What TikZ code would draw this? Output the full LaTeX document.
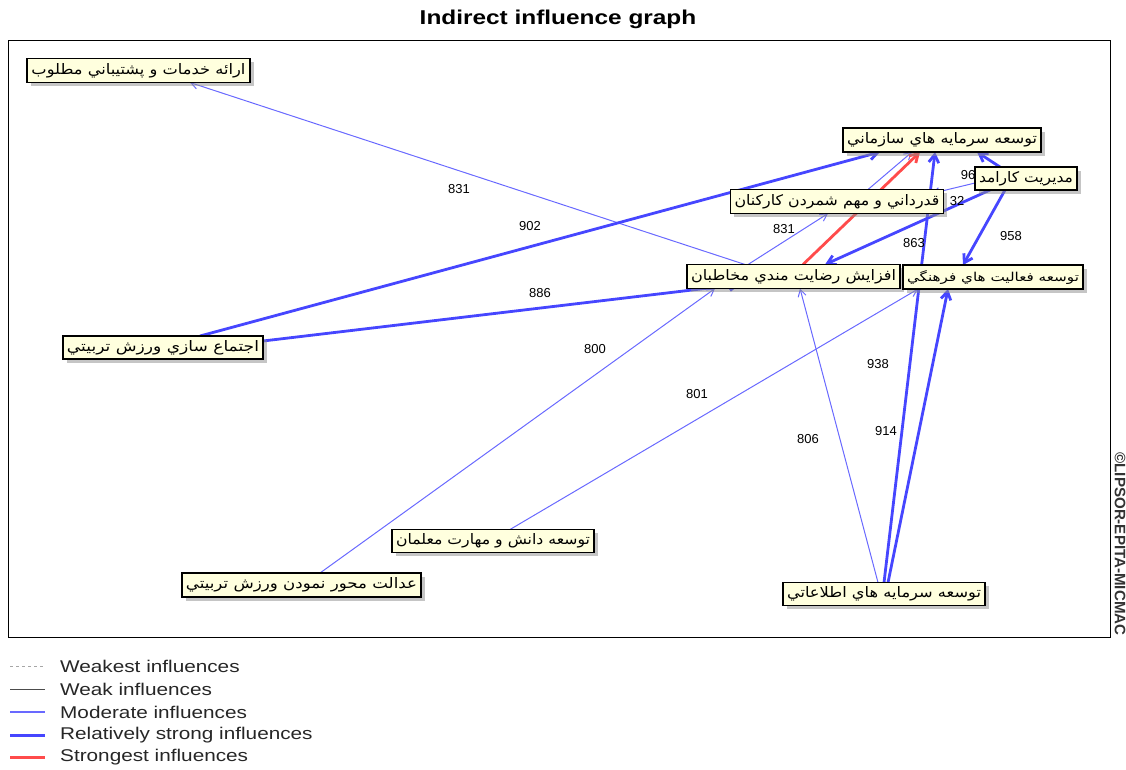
\documentclass[tikz,border=0pt]{standalone}
\usepackage{fontspec}
\usetikzlibrary{arrows.meta,shadows}
\TeXXeTstate=1
\newfontfamily\arabicfont[Script=Arabic]{DejaVu Sans}
\newfontfamily\sansA{Liberation Sans}[FakeStretch=1.22]
\newfontfamily\sansB{Liberation Sans}
\definecolor{cream}{RGB}{255,255,222}
\definecolor{modblue}{RGB}{105,105,255}
\definecolor{strblue}{RGB}{70,70,255}
\definecolor{redline}{RGB}{255,75,75}
\pgfdeclarelayer{bg}
\pgfsetlayers{bg,main}
\newcommand\fatxt[2]{\resizebox{#1}{11pt}{\arabicfont #2}}
\begin{document}
\begin{tikzpicture}[x=1pt,y=-1pt,
  box/.style={draw=black, line width=1.2pt, fill=cream, inner sep=0pt, outer sep=0pt,
    minimum height=24pt, drop shadow={shadow xshift=3.5pt, shadow yshift=-3.5pt, fill=black!45}},
  modline/.style={draw=modblue, line width=1pt, -{Straight Barb[length=7pt,width=8pt]}},
  strongline/.style={draw=strblue, line width=2.8pt, -{Straight Barb[length=8pt,width=10pt]}},
  redstrong/.style={draw=redline, line width=2.8pt, -{Straight Barb[length=8pt,width=10pt]}},
  lab/.style={font=\fontsize{13}{13}\sansB, inner sep=0pt},
  legtext/.style={font=\fontsize{17}{17}\sansA, inner sep=0pt, anchor=west, text=black!85}]
\useasboundingbox (0,0) rectangle (1126,769);
\node[font=\fontsize{20}{20}\sansA\bfseries, inner sep=0pt] (title) at (558,19) {Indirect influence graph};
\draw[line width=1pt] (8,40) rectangle (1110,637);

% nodes
\node[box, minimum width=223pt] (n1) at (138.5,70.5) {\fatxt{214pt}{\beginR ارائه خدمات و پشتيباني مطلوب\endR}};
\node[box, minimum width=198pt] (n2) at (942,140) {\fatxt{190pt}{\beginR توسعه سرمايه هاي سازماني\endR}};
\node[box, minimum width=102pt, minimum height=23pt] (n3) at (1026,178.5) {\fatxt{94pt}{\beginR مديريت كارامد\endR}};
\node[box, minimum width=213pt] (n4) at (837,201.5) {\fatxt{205pt}{\beginR قدرداني و مهم شمردن كاركنان\endR}};
\node[box, minimum width=213pt] (n5) at (793.5,276.5) {\fatxt{205pt}{\beginR افزايش رضايت مندي مخاطبان\endR}};
\node[box, minimum width=180pt] (n6) at (993,277) {\fatxt{172pt}{\beginR توسعه فعاليت هاي فرهنگي\endR}};
\node[box, minimum width=200pt, minimum height=23pt] (n7) at (163,347.5) {\fatxt{192pt}{\beginR اجتماع سازي ورزش تربيتي\endR}};
\node[box, minimum width=202pt, minimum height=23pt] (n8) at (493,541) {\fatxt{194pt}{\beginR توسعه دانش و مهارت معلمان\endR}};
\node[box, minimum width=239pt] (n9) at (301.5,585) {\fatxt{231pt}{\beginR عدالت محور نمودن ورزش تربيتي\endR}};
\node[box, minimum width=202pt, minimum height=23pt] (n10) at (884,594) {\fatxt{194pt}{\beginR توسعه سرمايه هاي اطلاعاتي\endR}};

\node[rotate=-90, inner sep=0pt, font=\sansB\bfseries, text=black!80] (copy) at (1120,544) {\resizebox{183pt}{!}{©LIPSOR-EPITA-MICMAC}};

\begin{pgfonlayer}{bg}
% moderate
\draw[modline] ([xshift=-48.5pt]n5.north) -- ([xshift=51.5pt]n1.south);
\draw[modline] ([xshift=18.5pt]n9.north) -- ([xshift=-78.5pt]n5.south);
\draw[modline] ([xshift=17pt]n8.north) -- ([xshift=-75pt]n6.south);
\draw[modline] ([xshift=-6pt]n10.north) -- ([xshift=6.5pt]n5.south);
\draw[modline] ([xshift=31pt]n4.north) -- ([xshift=-30pt]n2.south);
\draw[modline] ([xshift=-45.5pt]n5.north) -- ([xshift=-9pt]n4.south);
\draw[modline] ([yshift=-4.5pt]n3.west) -- ([xshift=-12pt,yshift=-4pt]n4.north east);
% relatively strong
\draw[strongline] ([xshift=37pt]n7.north) -- ([xshift=-62pt]n2.south);
\draw[strongline] ([yshift=6.5pt]n7.east) -- ([xshift=-53.5pt,yshift=-7.8pt]n5.center);
\draw[strongline] ([xshift=4pt]n10.north) -- ([xshift=-45pt]n6.south);
\draw[strongline] (n10.north) -- ([xshift=-7pt]n2.south);
\draw[strongline] ([xshift=-26pt]n3.north) -- ([xshift=35pt]n2.south);
\draw[strongline] ([xshift=-36pt]n3.south) -- ([xshift=31.5pt]n5.north);
\draw[strongline] ([xshift=-21pt]n3.south) -- ([xshift=-30pt]n6.north);
% strongest
\draw[redstrong] ([xshift=9.5pt]n5.north) -- ([xshift=-22pt]n2.south);
% labels
\node[lab] (l1) at (459,189) {831};
\node[lab] (l2) at (530,226) {902};
\node[lab] (l3) at (540,293) {886};
\node[lab] (l4) at (784,229) {831};
\node[lab] (l5) at (914,243) {863};
\node[lab] (l6) at (1011,236) {958};
\node[lab] (l7) at (968,175) {96};
\node[lab] (l8) at (957,201) {32};
\node[lab] (l9) at (595,349) {800};
\node[lab] (l10) at (697,394) {801};
\node[lab] (l11) at (878,364) {938};
\node[lab] (l12) at (808,439) {806};
\node[lab] (l13) at (886,431) {914};
\end{pgfonlayer}

% legend
\draw[black!35, line width=0.8pt, dash pattern=on 3pt off 3pt] (10,666) -- (45,666);
\draw[black!70, line width=1pt] (10,689) -- (45,689);
\draw[modblue, line width=1.2pt] (10,712) -- (45,712);
\draw[strblue, line width=3pt] (10,735) -- (45,735);
\draw[redline, line width=3pt] (10,757) -- (45,757);
\node[legtext] (g1) at (60,666) {Weakest influences};
\node[legtext] (g2) at (60,689) {Weak influences};
\node[legtext] (g3) at (60,712) {Moderate influences};
\node[legtext] (g4) at (60,735) {Relatively strong influences};
\node[legtext] (g5) at (60,757) {Strongest influences};
\end{tikzpicture}
\end{document}
